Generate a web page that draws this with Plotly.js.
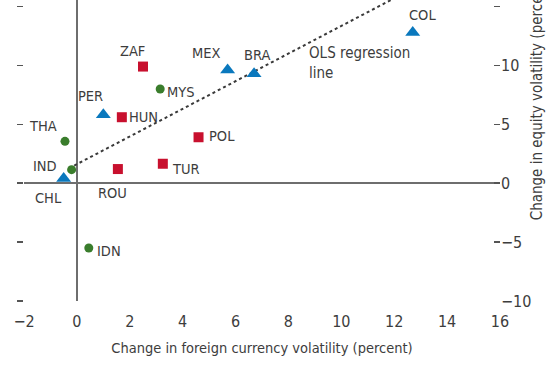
<!DOCTYPE html>
<html>
<head>
<meta charset="utf-8">
<script src="https://cdn.plot.ly/plotly-3.0.1.min.js"></script>
<style>html,body{margin:0;padding:0;background:#fff;}#chart{width:558px;height:367px;}</style>
</head>
<body>
<div id="chart"></div>
<script>
// Red squares
var sqNames = ["ZAF", "HUN", "POL", "TUR", "ROU"];
var sqX = [2.5, 1.7, 4.6, 3.25, 1.55];
var sqY = [9.9, 5.6, 3.9, 1.65, 1.2];
// Blue triangles
var triNames = ["MEX", "BRA", "PER", "CHL", "COL"];
var triX = [5.7, 6.7, 1.0, -0.5, 12.7];
var triY = [9.6, 9.3, 5.8, 0.4, 12.8];
// Green circles
var cirNames = ["MYS", "THA", "IND", "IDN"];
var cirX = [3.15, -0.45, -0.2, 0.45];
var cirY = [8.0, 3.55, 1.15, -5.5];
// OLS regression line
var olsX = [-0.1, 12.6];
var olsY = [1.5, 16.4];
var xTicks = [-2, 0, 2, 4, 6, 8, 10, 12, 14, 16];
var yTicks = [-10, -5, 0, 5, 10, 15];

// label offsets from the marker, in pixels [dx, dy(up)]
var labelOffset = {
  ZAF: [-11, 16], HUN: [22, 0], POL: [23, 1], TUR: [23, -5], ROU: [-5, -24],
  MEX: [-22, 17], BRA: [3, 19], PER: [-13, 19], CHL: [-15, -20], COL: [10, 17],
  MYS: [21, -3], THA: [-22, 15], IND: [-27, 4], IDN: [20, -3]
};

var FONT = "'DejaVu Sans Condensed', 'Liberation Sans Narrow', sans-serif";
var TXT = "#3d3d3d";
var lblFont = {family: FONT, size: 14.5, color: TXT};

var traces = [
  {x: olsX, y: olsY, mode: "lines", line: {color: "#3a3a3a", width: 2, dash: "dot"}, hoverinfo: "skip", showlegend: false},
  {x: sqX, y: sqY, mode: "markers", marker: {symbol: "square", size: 10, color: "#c8102e"}, showlegend: false},
  {x: triX, y: triY, mode: "markers", marker: {symbol: "triangle-up", size: 13, color: "#0a78bd"}, showlegend: false},
  {x: cirX, y: cirY, mode: "markers", marker: {symbol: "circle", size: 9, color: "#3a7d2c"}, showlegend: false},
  {x: [null], y: [null], yaxis: "y2", mode: "markers", showlegend: false, hoverinfo: "skip"}
];

var annotations = [];
function addLabels(names, xs, ys) {
  names.forEach(function(n, i) {
    annotations.push({x: xs[i], y: ys[i], xref: "x", yref: "y", text: n, showarrow: false,
      xanchor: "center", yanchor: "middle", xshift: labelOffset[n][0], yshift: labelOffset[n][1], font: lblFont});
  });
}
addLabels(sqNames, sqX, sqY);
addLabels(triNames, triX, triY);
addLabels(cirNames, cirX, cirY);
annotations.push({x: 8.7, y: 12.0, xref: "x", yref: "y", xanchor: "left", yanchor: "top", align: "left", showarrow: false,
  text: "OLS regression<br>line", font: {family: FONT, size: 15, color: TXT}});
annotations.push({x: 1.078, y: 0.262, xref: "paper", yref: "paper", xanchor: "center", yanchor: "bottom", textangle: -90, showarrow: false,
  text: "Change in equity volatility (percent)", font: {family: FONT, size: 15, color: TXT}});

var layout = {
  width: 558, height: 367,
  margin: {l: 24, r: 58, t: 0, b: 66, pad: 0},
  paper_bgcolor: "#ffffff", plot_bgcolor: "#ffffff",
  showlegend: false,
  font: {family: FONT, size: 15, color: TXT},
  xaxis: {
    range: [-2, 16], tickvals: xTicks, ticks: "", showgrid: false, showline: false,
    zeroline: true, zerolinecolor: "#6e6e6e", zerolinewidth: 1.5,
    ticklabelstandoff: 9,
    tickfont: {family: FONT, size: 16, color: TXT},
    title: {text: "Change in foreign currency volatility (percent)", font: {family: FONT, size: 14.5, color: TXT}, standoff: 12}
  },
  yaxis: {
    range: [-10, 15.55], tickvals: yTicks, side: "right", ticks: "inside", ticklen: 6, tickwidth: 1.5, tickcolor: "#555",
    showgrid: false, showline: false, zeroline: true, zerolinecolor: "#6e6e6e", zerolinewidth: 1.5,
    tickfont: {family: FONT, size: 16, color: TXT}
  },
  yaxis2: {
    range: [-10, 15.55], tickvals: yTicks, overlaying: "y", side: "left", ticks: "outside", ticklen: 6, tickwidth: 1.5, tickcolor: "#555",
    showticklabels: false, showgrid: false, showline: false, zeroline: false
  },
  annotations: annotations
};

Plotly.newPlot("chart", traces, layout, {displayModeBar: false, staticPlot: true});
</script>
</body>
</html>
